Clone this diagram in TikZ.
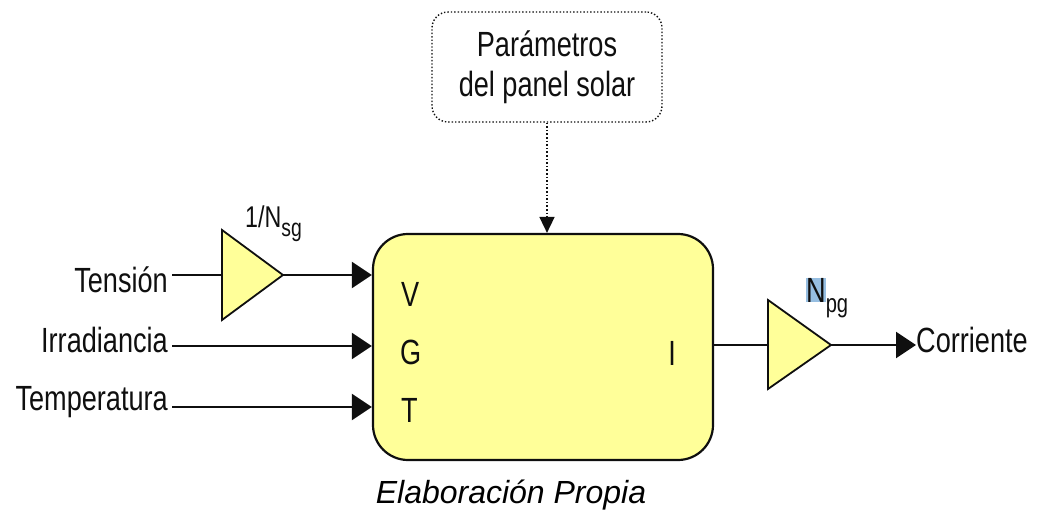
\documentclass[tikz,border=0pt]{standalone}
\usepackage{fontspec}
\setmainfont{Liberation Sans}[FakeStretch=0.775]
\newfontfamily\capfont{Liberation Sans}
\usetikzlibrary{arrows.meta}
\definecolor{boxyellow}{RGB}{255,255,153}
\definecolor{hlblue}{RGB}{150,190,225}
\definecolor{ink}{RGB}{15,15,15}
\begin{document}
\begin{tikzpicture}[x=1pt,y=-1pt,
 lbl/.style={font=\fontsize{35}{35}\selectfont, inner sep=0pt, text=ink},
 sublbl/.style={font=\fontsize{30}{30}\selectfont, inner sep=0pt, text=ink},
 wire/.style={line width=2.2pt, draw=ink},
 arr/.style={wire, -{Triangle[length=20pt,width=26pt]}},
 darr/.style={line width=1.6pt, draw=ink, dotted, -{Triangle[length=16pt,width=15pt]}},
 amp/.style={line width=1.8pt, draw=ink, fill=boxyellow, line join=miter},
 mainbox/.style={draw=ink, line width=2.2pt, fill=boxyellow, rounded corners=35pt, minimum width=340pt, minimum height=226pt},
 parbox/.style={draw=ink, line width=1.4pt, dotted, rounded corners=16pt, minimum width=230pt, minimum height=110pt, align=center, font=\fontsize{35}{40}\selectfont, text=ink}]
\useasboundingbox (0,0) rectangle (1037,516);

% main block
\node[mainbox] (blk) at (543,347) {};
\node[lbl, anchor=base west] (lv) at (401,306) {V};
\node[lbl, anchor=base west] (lg) at (400,364) {G};
\node[lbl, anchor=base west] (lt) at (401,422) {T};
\node[lbl, anchor=base east] (li) at (676,365) {I};

% parameters box
\node[parbox] (par) at (547,67) {Parámetros\\del panel solar};
\draw[darr] (par.south) -- (par.south |- blk.north);

% input labels
\node[lbl, anchor=base east] (tension) at (168,292) {Tensión};
\node[lbl, anchor=base east] (irr) at (168,352) {Irradiancia};
\node[lbl, anchor=base east] (temp) at (168,410) {Temperatura};

\coordinate (tin) at (172,275);
\coordinate (iin) at (172,346);
\coordinate (tpin) at (172,407);

% amplifier 1
\draw[amp] (222,230) -- (283,275) -- (222,320) -- cycle;
\coordinate (a1in) at (222,275);
\coordinate (a1out) at (283,275);
\node[sublbl, anchor=base west] (n1) at (245,228) {1/N\raisebox{-0.3em}{\fontsize{25}{25}\selectfont sg}};

\draw[wire] (tin) -- (a1in);
\draw[arr] (a1out) -- (a1out -| blk.west);
\draw[arr] (iin) -- (iin -| blk.west);
\draw[arr] (tpin) -- (tpin -| blk.west);

% amplifier 2
\draw[amp] (768,300) -- (831,345) -- (768,389) -- cycle;
\coordinate (a2in) at (768,345);
\coordinate (a2out) at (831,345);
\node[lbl, anchor=base west] (n2) at (806,302) {{\setlength\fboxsep{0pt}\colorbox{hlblue}{N}}\raisebox{-0.3em}{\fontsize{26}{26}\selectfont pg}};

\node[lbl, anchor=base west] (corr) at (916,352) {Corriente};
\draw[wire] (a2in -| blk.east) -- (a2in);
\draw[arr] (a2out) -- (corr.west |- a2out);

% caption
\node[anchor=base, inner sep=0pt, font=\capfont\itshape\fontsize{32}{32}\selectfont] (cap) at (511,503) {Elaboración Propia};
\end{tikzpicture}
\end{document}
